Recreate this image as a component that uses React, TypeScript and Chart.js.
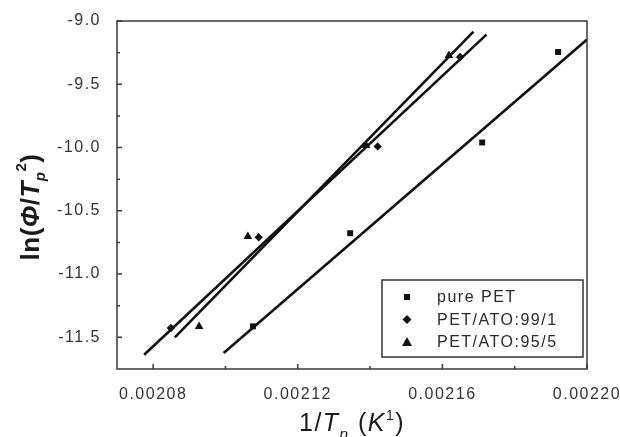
import React, { useEffect, useRef } from 'react';
import { Chart, registerables } from 'chart.js';

Chart.register(...registerables);

// ---- axis ticks ----
const xMajorTicks = [0.00208, 0.00212, 0.00216, 0.0022];
const xMinorTicks = [0.0021, 0.00214, 0.00218];
const yMajorTicks = [-9.0, -9.5, -10.0, -10.5, -11.0, -11.5];
const yMinorTicks = [-9.25, -9.75, -10.25, -10.75, -11.25];
const xMin = 0.00207;
const xMax = 0.0022;
const yMin = -11.75;
const yMax = -9.0;

// ---- series (measured points) ----
const seriesNames = ['pure PET', 'PET/ATO:99/1', 'PET/ATO:95/5'];

const petX = [0.0021076, 0.0021345, 0.002171, 0.002192];
const petY = [-11.413, -10.677, -9.96, -9.245];

const ato99X = [0.0020849, 0.0021092, 0.0021421, 0.0021649];
const ato99Y = [-11.426, -10.709, -9.991, -9.285];

const ato95X = [0.0020927, 0.0021062, 0.0021389, 0.0021618];
const ato95Y = [-11.415, -10.703, -9.983, -9.272];

// ---- fitted lines (end points) ----
const petFitX = [0.0020995, 0.0022];
const petFitY = [-11.623, -9.147];
const ato99FitX = [0.0020775, 0.0021722];
const ato99FitY = [-11.637, -9.108];
const ato95FitX = [0.002086, 0.0021686];
const ato95FitY = [-11.5, -9.084];

const FONT = 'Arial, "Liberation Sans", sans-serif';

const toPts = (xs: number[], ys: number[]) => xs.map((x, i) => ({ x, y: ys[i] }));

type Run = { t: string; font: string; dy?: number };

function drawRuns(ctx: CanvasRenderingContext2D, runs: Run[], cx: number, baseline: number) {
  let total = 0;
  const widths = runs.map((r) => {
    ctx.font = r.font;
    const w = ctx.measureText(r.t).width;
    total += w;
    return w;
  });
  let x = cx - total / 2;
  ctx.textAlign = 'left';
  ctx.textBaseline = 'alphabetic';
  runs.forEach((r, i) => {
    ctx.font = r.font;
    ctx.fillText(r.t, x, baseline + (r.dy || 0));
    x += widths[i];
  });
}

function drawMarker(ctx: CanvasRenderingContext2D, style: string, x: number, y: number) {
  ctx.beginPath();
  if (style === 'rect') {
    ctx.rect(x - 3, y - 3, 6, 6);
  } else if (style === 'rectRot') {
    ctx.moveTo(x, y - 4.5);
    ctx.lineTo(x + 4.5, y);
    ctx.lineTo(x, y + 4.5);
    ctx.lineTo(x - 4.5, y);
    ctx.closePath();
  } else {
    ctx.moveTo(x, y - 5);
    ctx.lineTo(x + 5, y + 4);
    ctx.lineTo(x - 5, y + 4);
    ctx.closePath();
  }
  ctx.fill();
}

const spacingPlugin = {
  id: 'spacing',
  beforeUpdate(chart: any) {
    chart.ctx.letterSpacing = '1.5px';
  },
  beforeDraw(chart: any) {
    chart.ctx.letterSpacing = '1.5px';
  },
};

const decorPlugin = {
  id: 'decor',
  afterDraw(chart: any) {
    const ctx: CanvasRenderingContext2D = chart.ctx;
    const { left, right, top, bottom } = chart.chartArea;
    const xs = chart.scales.x;
    const ys = chart.scales.y;
    ctx.save();
    // frame
    ctx.strokeStyle = '#3a3a3a';
    ctx.lineWidth = 1.5;
    ctx.strokeRect(left, top, right - left, bottom - top);
    // ticks (inward)
    ctx.beginPath();
    yMajorTicks.forEach((v) => {
      const p = ys.getPixelForValue(v);
      ctx.moveTo(left, p);
      ctx.lineTo(left + 5, p);
    });
    yMinorTicks.forEach((v) => {
      const p = ys.getPixelForValue(v);
      ctx.moveTo(left, p);
      ctx.lineTo(left + 3, p);
    });
    xMajorTicks.forEach((v) => {
      const p = xs.getPixelForValue(v);
      ctx.moveTo(p, bottom);
      ctx.lineTo(p, bottom - 5);
    });
    xMinorTicks.forEach((v) => {
      const p = xs.getPixelForValue(v);
      ctx.moveTo(p, bottom);
      ctx.lineTo(p, bottom - 3);
    });
    ctx.stroke();

    // legend
    const lw = 201;
    const lh = 77;
    const lx = right - 4 - lw;
    const ly = bottom - 12 - lh;
    ctx.fillStyle = '#ffffff';
    ctx.fillRect(lx, ly, lw, lh);
    ctx.strokeStyle = '#333';
    ctx.lineWidth = 1.5;
    ctx.strokeRect(lx, ly, lw, lh);
    const styles = ['rect', 'rectRot', 'triangle'];
    ctx.letterSpacing = '1.5px';
    seriesNames.forEach((name, i) => {
      const yy = ly + 17 + i * 22.5;
      ctx.fillStyle = '#111';
      drawMarker(ctx, styles[i], lx + 25, yy);
      ctx.fillStyle = '#2a2a2a';
      ctx.font = `16px ${FONT}`;
      ctx.textAlign = 'left';
      ctx.textBaseline = 'middle';
      ctx.fillText(name, lx + 55, yy + 1);
    });

    // axis titles
    ctx.letterSpacing = '1.5px';
    ctx.fillStyle = '#1a1a1a';
    drawRuns(
      ctx,
      [
        { t: '1/', font: `25px ${FONT}` },
        { t: 'T', font: `italic 25px ${FONT}` },
        { t: 'p', font: `italic 15px ${FONT}`, dy: 8 },
        { t: ' (', font: `25px ${FONT}` },
        { t: 'K', font: `italic 25px ${FONT}` },
        { t: '1', font: `14px ${FONT}`, dy: -11 },
        { t: ')', font: `25px ${FONT}` },
      ],
      (left + right) / 2,
      431
    );
    ctx.letterSpacing = '0.5px';
    ctx.save();
    ctx.translate(39, 207);
    ctx.rotate(-Math.PI / 2);
    drawRuns(
      ctx,
      [
        { t: 'ln(', font: `bold 26px ${FONT}` },
        { t: 'Φ', font: `italic bold 26px ${FONT}` },
        { t: '/', font: `bold 26px ${FONT}` },
        { t: 'T', font: `italic bold 26px ${FONT}` },
        { t: 'p', font: `italic bold 15px ${FONT}`, dy: 6 },
        { t: '2', font: `bold 15px ${FONT}`, dy: -13 },
        { t: ')', font: `bold 26px ${FONT}` },
      ],
      0,
      0
    );
    ctx.restore();
    ctx.restore();
  },
};

export default function App() {
  const ref = useRef<HTMLCanvasElement | null>(null);

  useEffect(() => {
    if (!ref.current) return;
    const lineDs = (label: string, xs: number[], ys: number[]) => ({
      label,
      data: toPts(xs, ys),
      showLine: true,
      borderColor: '#111',
      borderWidth: 2.6,
      pointRadius: 0,
      fill: false,
    });
    const ptDs = (label: string, xs: number[], ys: number[], style: string, r: number) => ({
      label,
      data: toPts(xs, ys),
      showLine: false,
      pointStyle: style,
      pointRadius: r,
      pointBackgroundColor: '#111',
      pointBorderColor: '#111',
      pointBorderWidth: 0,
    });
    const chart = new Chart(ref.current, {
      type: 'scatter',
      data: {
        datasets: [
          lineDs('fit ' + seriesNames[0], petFitX, petFitY),
          lineDs('fit ' + seriesNames[1], ato99FitX, ato99FitY),
          lineDs('fit ' + seriesNames[2], ato95FitX, ato95FitY),
          ptDs(seriesNames[0], petX, petY, 'rect', 4.2),
          ptDs(seriesNames[1], ato99X, ato99Y, 'rectRot', 4.2),
          ptDs(seriesNames[2], ato95X, ato95Y, 'triangle', 5),
        ] as any,
      },
      options: {
        responsive: false,
        devicePixelRatio: 1,
        animation: false,
        layout: { padding: { left: 0, right: 33, top: 21, bottom: 0 } },
        plugins: {
          legend: { display: false },
          tooltip: { enabled: false },
        },
        scales: {
          x: {
            type: 'linear',
            min: xMin,
            max: xMax,
            grid: { display: false },
            border: { display: false },
            afterBuildTicks: (s: any) => {
              s.ticks = xMajorTicks.map((v) => ({ value: v }));
            },
            afterFit: (s: any) => {
              s.height = 68;
              s.paddingLeft = 0;
              s.paddingRight = 0;
            },
            ticks: {
              autoSkip: false,
              maxRotation: 0,
              padding: 8,
              color: '#333',
              font: { family: FONT, size: 16 },
              callback: (v: any) => Number(v).toFixed(5),
            },
          },
          y: {
            type: 'linear',
            min: yMin,
            max: yMax,
            grid: { display: false },
            border: { display: false },
            afterBuildTicks: (s: any) => {
              s.ticks = yMajorTicks.map((v) => ({ value: v }));
            },
            afterFit: (s: any) => {
              s.width = 117;
              s.paddingTop = 0;
              s.paddingBottom = 0;
            },
            ticks: {
              autoSkip: false,
              padding: 8,
              color: '#333',
              font: { family: FONT, size: 16 },
              callback: (v: any) => Number(v).toFixed(1),
            },
          },
        },
      } as any,
      plugins: [spacingPlugin, decorPlugin],
    });
    return () => chart.destroy();
  }, []);

  return (
    <div style={{ position: 'absolute', left: 0, top: 0, width: 620, height: 437, background: '#fff' }}>
      <canvas ref={ref} width={620} height={437} style={{ display: 'block' }} />
    </div>
  );
}
